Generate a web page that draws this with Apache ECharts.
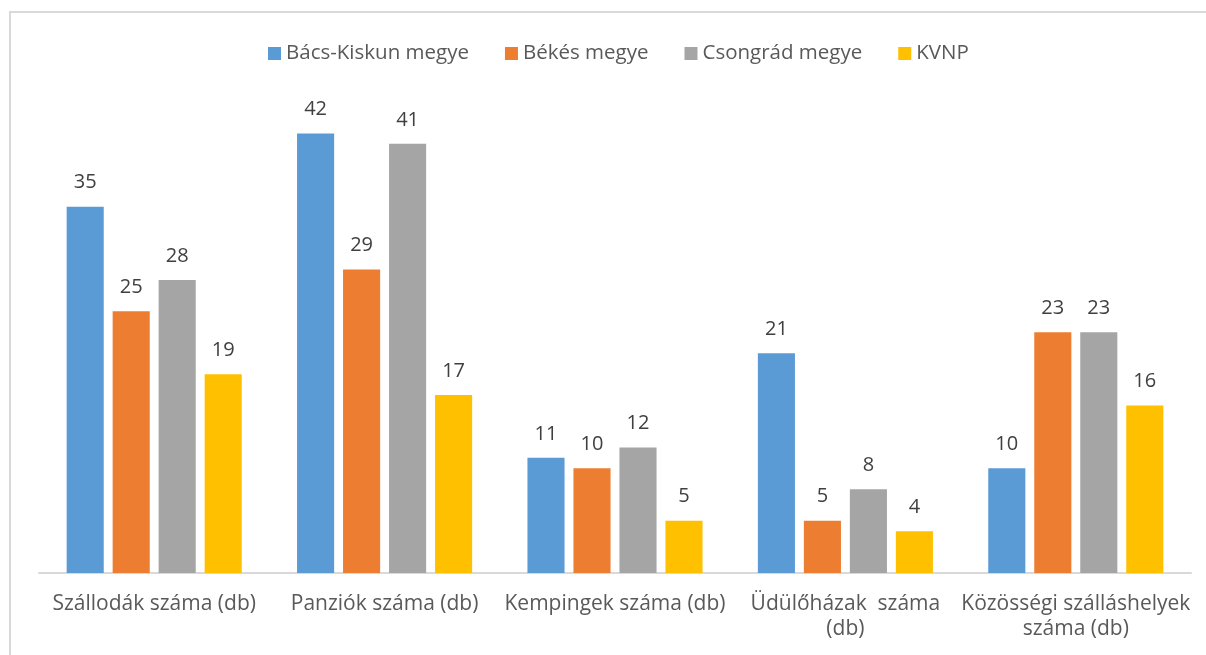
<!DOCTYPE html>
<html>
<head>
<meta charset="utf-8">
<script src="https://cdn.jsdelivr.net/npm/echarts@6/dist/echarts.min.js"></script>
<style>
html,body{margin:0;padding:0;background:#fff;}
#chart{width:1206px;height:655px;}
</style>
</head>
<body>
<div id="chart"></div>
<script>
const categories = [
  "Szállodák száma (db)",
  "Panziók száma (db)",
  "Kempingek száma (db)",
  "Üdülőházak  száma\n(db)",
  "Közösségi szálláshelyek\nszáma (db)"
];
const seriesNames = ["Bács-Kiskun megye", "Békés megye", "Csongrád megye", "KVNP"];
const bacsKiskun = [35, 42, 11, 21, 10];
const bekes = [25, 29, 10, 5, 23];
const csongrad = [28, 41, 12, 8, 23];
const kvnp = [19, 17, 5, 4, 16];
const colors = ["#5B9BD5", "#ED7D31", "#A5A5A5", "#FFC000"];

const font = "'Open Sans', sans-serif";
const chart = echarts.init(document.getElementById('chart'), null, {renderer: 'canvas'});
const values = [bacsKiskun, bekes, csongrad, kvnp];

chart.setOption({
  animation: false,
  backgroundColor: '#ffffff',
  textStyle: {fontFamily: font},
  graphic: [{
    type: 'rect',
    silent: true,
    shape: {x: 10, y: 12, width: 1400, height: 800},
    style: {fill: 'none', stroke: '#D9D9D9', lineWidth: 2}
  }],
  legend: {
    left: 263,
    top: 38,
    itemWidth: 13,
    itemHeight: 13,
    itemGap: 36,
    icon: 'rect',
    textStyle: {fontFamily: font, fontSize: 20.5, color: '#595959'},
    data: seriesNames
  },
  grid: {left: 39, right: 15, top: 102, bottom: 82, containLabel: false},
  xAxis: {
    type: 'category',
    data: categories,
    axisTick: {show: false},
    axisLine: {show: true, lineStyle: {color: '#D9D9D9', width: 2}},
    axisLabel: {
      interval: 0,
      margin: 19,
      fontFamily: font,
      fontSize: 21,
      lineHeight: 25,
      color: '#595959',
      align: 'center'
    }
  },
  yAxis: {
    type: 'value',
    min: 0,
    max: 45,
    show: false,
    splitLine: {show: false}
  },
  series: seriesNames.map((name, i) => ({
    name: name,
    type: 'bar',
    data: values[i],
    barGap: '24%',
    barCategoryGap: '24%',
    itemStyle: {color: colors[i]},
    label: {
      show: true,
      position: 'top',
      distance: 14,
      fontFamily: font,
      fontSize: 20,
      color: '#404040'
    }
  }))
});
</script>
</body>
</html>
